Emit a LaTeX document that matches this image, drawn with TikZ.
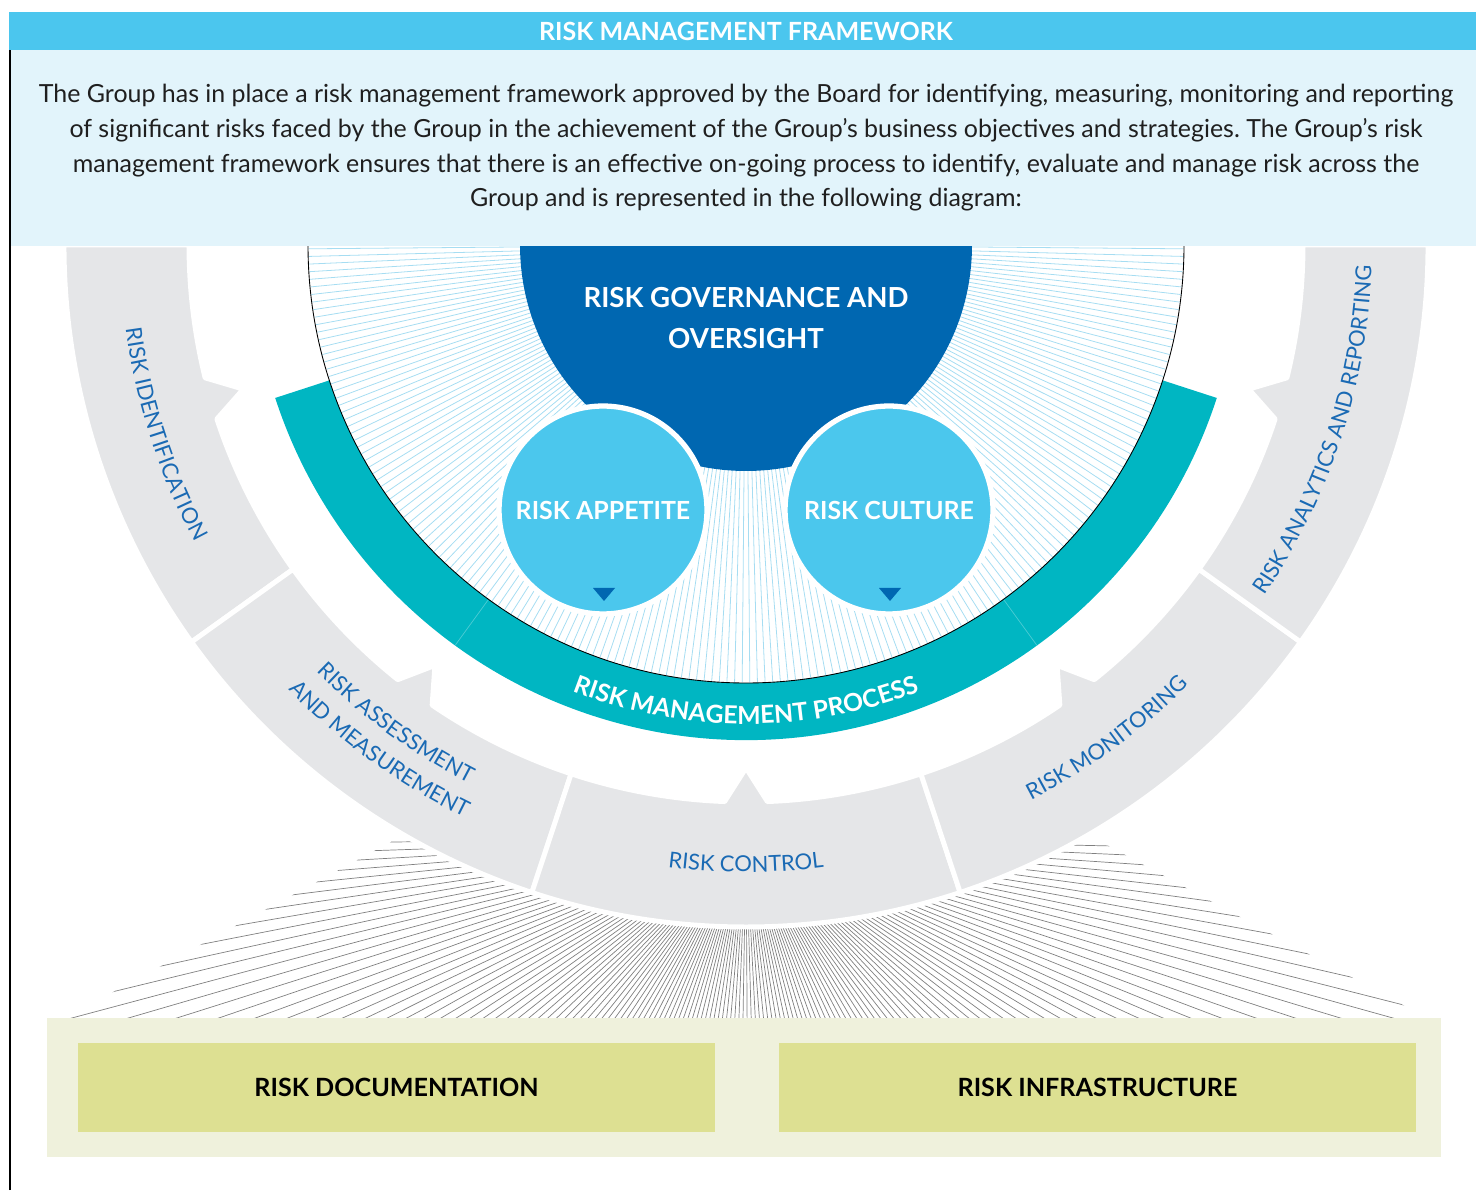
\documentclass[tikz,border=0pt]{standalone}
\usepackage{fontspec}
\setmainfont{Lato}
\frenchspacing
\usetikzlibrary{decorations.text}

\definecolor{hdrblue}{HTML}{4BC6EE}
\definecolor{boxblue}{HTML}{E2F4FB}
\definecolor{govblue}{HTML}{0067B1}
\definecolor{circblue}{HTML}{4BC7ED}
\definecolor{tealband}{HTML}{00B6C2}
\definecolor{ringgray}{HTML}{E5E6E8}
\definecolor{ringtext}{HTML}{1A6AB4}
\definecolor{hatchcyan}{HTML}{A6DDF2}
\definecolor{panelout}{HTML}{EFF1DC}
\definecolor{panelin}{HTML}{DDE092}

\tikzset{
  ringseg/.style={fill=ringgray, draw=white, line width=2.8pt, line join=round},
  hatchline/.style={hatchcyan, line width=0.45pt},
  fanline/.style={black!50, line width=0.4pt},
  smallcirc/.style={circle, fill=circblue, draw=white, line width=3pt, minimum size=4.16cm,
    text=white, font=\bfseries\fontsize{14.2}{17}\selectfont},
  boxlabel/.style={font=\bfseries\fontsize{14.3}{17}\selectfont},
}

% curved label: angle, baseline radius, half span, text
\newcommand{\ringlabel}[4]{%
  \path[decorate, decoration={text along path, text align=center,
    text={|\fontsize{12.5}{15}\selectfont\color{ringtext}|#4}}]
    ({#1-#3}:#2) arc[start angle={#1-#3}, end angle={#1+#3}, radius=#2];}

\begin{document}
\begin{tikzpicture}[x=0.02cm, y=0.02cm]
\useasboundingbox (0,0) rectangle (1476,1190);

% grey fan FIRST (so it stays behind the ring)
\begin{scope}
\clip (400,353) -- (65,172) -- (1427,172) -- (1092,353) -- cycle;
\foreach \a in {180.65,181.95,...,359.5} \draw[fanline] (746,352) -- ++(\a:760);
\end{scope}

% bottom panel
\fill[panelout] (47,33) rectangle (1441,172);
\fill[panelin] (78,58) rectangle (715,147);
\fill[panelin] (779,58) rectangle (1416,147);
\node (doc)[boxlabel] at (396.5,102.5) {RISK DOCUMENTATION};
\node (infra)[boxlabel] at (1097.5,102.5) {RISK INFRASTRUCTURE};

\begin{scope}[shift={(746,945)}]
% outer ring, one segment per step, tab on the inner edge
\foreach \s/\t/\e in {180/196/215.6, 215.6/233.5/251.7, 251.7/270/288.3, 288.3/306.5/324.4, 324.4/344/360}
  \draw[ringseg] (\s:557) arc[start angle=\s, end angle={\t-2.2}, radius=557]
    -- (\t:523) -- ({\t+2.2}:557) arc[start angle={\t+2.2}, end angle=\e, radius=557]
    -- (\e:682) arc[start angle=\e, end angle=\s, radius=682] -- cycle;
\ringlabel{198}{626}{20}{RISK IDENTIFICATION}
\ringlabel{233.8}{605.5}{16}{RISK ASSESSMENT}
\ringlabel{234}{638}{16}{AND MEASUREMENT}
\ringlabel{270}{627}{14}{RISK CONTROL}
\ringlabel{306.2}{624}{16}{RISK MONITORING}
\ringlabel{342}{626}{22}{RISK ANALYTICS AND REPORTING}

% teal band
\fill[tealband] (198:438) arc[start angle=198, end angle=342, radius=438]
  -- (342:495) arc[start angle=342, end angle=198, radius=495] -- cycle;
\draw[tealband!70!white, line width=0.4pt] (234:438) -- (234:495);
\draw[tealband!70!white, line width=0.4pt] (306:438) -- (306:495);
\path[decorate, decoration={text along path, text align=center,
  text={|\bfseries\fontsize{14.1}{16}\selectfont\color{white}|RISK MANAGEMENT PROCESS}}]
  (240:479) arc[start angle=240, end angle=300, radius=479];

% hatching inside the black arc
\foreach \a in {180.5,181.5,...,359.5} \draw[hatchline] (\a:150) -- (\a:437.5);
\draw[black, line width=0.5pt] (180:438) arc[start angle=180, end angle=360, radius=438];

% governance half disc
\fill[govblue] (180:226) arc[start angle=180, end angle=360, radius=226] -- cycle;
\end{scope}

\node (gov)[align=center, text=white, font=\bfseries\fontsize{15.7}{23.2}\selectfont] at (746,872) {RISK GOVERNANCE AND\\OVERSIGHT};
\node (appetite)[smallcirc] at (603,680) {RISK APPETITE};
\node (culture)[smallcirc] at (889,680) {RISK CULTURE};
\fill[govblue] (593,602) -- (615,602) -- (604,589) -- cycle;
\fill[govblue] (879,602) -- (901,602) -- (890,589) -- cycle;

% header and intro text on top
\fill[hdrblue] (9,1140) rectangle (1476,1178);
\fill[boxblue] (9,944) rectangle (1476,1140);
\node (hdr)[text=white, font=\bfseries\fontsize{14.25}{17}\selectfont] at (746,1159) {RISK MANAGEMENT FRAMEWORK};
\node (intro)[align=center, text=black!88, font=\fontsize{14.2}{19.7}\selectfont] at (746,1042)
  {The Group has in place a risk management framework approved by the Board for identifying, measuring, monitoring and reporting\\
   of significant risks faced by the Group in the achievement of the Group’s business objectives and strategies. The Group’s risk\\
   management framework ensures that there is an effective on-going process to identify, evaluate and manage risk across the\\
   Group and is represented in the following diagram:};
\draw[line width=0.6pt] (10,0) -- (10,1140);
\end{tikzpicture}
\end{document}
